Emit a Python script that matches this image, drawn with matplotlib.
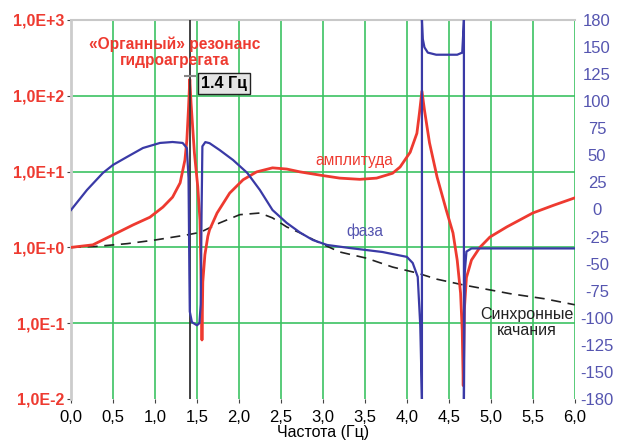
import matplotlib
matplotlib.use("Agg")
import matplotlib.pyplot as plt

plt.rcParams["font.family"] = ["Liberation Sans", "DejaVu Sans"]

# amplitude response (left, log scale)
amp_f = [0.0, 0.26, 0.5, 0.74, 0.94, 1.095, 1.21, 1.30, 1.357, 1.38, 1.40,
         1.415, 1.43, 1.47, 1.51, 1.536, 1.552, 1.56, 1.57, 1.595, 1.63, 1.65,
         1.74, 1.89, 2.05, 2.21, 2.40, 2.57, 2.73, 2.96, 3.20, 3.44, 3.64,
         3.83, 3.92, 4.04, 4.12, 4.15, 4.18, 4.21, 4.27, 4.36, 4.47, 4.55,
         4.60, 4.64, 4.66, 4.672, 4.685, 4.71, 4.77, 4.87, 4.99, 5.19, 5.50,
         5.75, 6.00]
amp_v = [1.0, 1.08, 1.46, 1.98, 2.5, 3.4, 4.6, 7.1, 14.2, 26, 70,
         165, 80, 17.6, 6.3, 2.3, 0.3, 0.06, 0.35, 0.8, 1.4, 1.7,
         2.84, 5.2, 7.8, 9.9, 11.2, 10.8, 9.9, 9.0, 8.2, 7.9, 8.2,
         9.5, 11.5, 18, 32, 59, 115, 65, 24, 8.5, 3.1, 1.55,
         0.68, 0.25, 0.08, 0.015, 0.15, 0.4, 0.68, 1.0, 1.37, 1.86, 2.84,
         3.6, 4.5]

# phase response (right axis, degrees; vertical jumps are the +-180 wraps)
ph_f = [0.0, 0.19, 0.38, 0.5, 0.667, 0.857, 1.06, 1.21, 1.33, 1.38, 1.40,
        1.41, 1.415, 1.44, 1.50, 1.53, 1.545, 1.555, 1.565, 1.60, 1.65, 1.77,
        1.93, 2.10, 2.25, 2.40, 2.57, 2.73, 2.88, 3.05, 3.32, 3.71, 4.00,
        4.07, 4.13, 4.16, 4.18, 4.18, 4.19, 4.21, 4.25, 4.35, 4.60, 4.66,
        4.68, 4.68, 4.69, 4.71, 4.77, 6.00]
ph_v = [-0.5, 18.5, 34.7, 42.3, 49.9, 58.4, 63.2, 64.1, 63.2, 58.4, 30,
        -60, -97, -107, -110, -108, -90, -5, 60, 64, 63, 56.5,
        47, 34.7, 18.5, -0.5, -12.8, -22, -29, -33.7, -36.6, -40.4, -45,
        -50.8, -64, -110, -180, 180, 162, 154, 149, 147, 147, 149,
        180, -180, -60, -40, -37, -37]

# synchronous swings (dashed, left axis)
sync_f = [0.0, 0.3, 0.67, 1.0, 1.38, 1.54, 1.77, 2.01, 2.25, 2.40, 2.57,
          2.73, 2.96, 3.20, 3.52, 3.83, 4.12, 4.36, 4.67, 5.23, 5.64, 6.0]
sync_v = [1.0, 1.03, 1.12, 1.25, 1.46, 1.58, 2.1, 2.7, 2.84, 2.45, 1.86,
          1.55, 1.15, 0.87, 0.72, 0.55, 0.46, 0.38, 0.32, 0.245, 0.21, 0.175]

marker_f = 1.415

x_ticks = [0.0, 0.5, 1.0, 1.5, 2.0, 2.5, 3.0, 3.5, 4.0, 4.5, 5.0, 5.5, 6.0]
x_labels = ["0,0", "0,5", "1,0", "1,5", "2,0", "2,5", "3,0", "3,5", "4,0",
            "4,5", "5,0", "5,5", "6,0"]
y_ticks = [1e-2, 1e-1, 1e0, 1e1, 1e2, 1e3]
y_labels = ["1,0E-2", "1,0E-1", "1,0E+0", "1,0E+1", "1,0E+2", "1,0E+3"]
ph_labels = ["180", "150", "125", "100", "75", "50", "25", "0", "-25", "-50",
             "-75", "-100", "-125", "-150", "-180"]

RED = "#ee3a30"
BLUE = "#3a3aa6"
BLUE_TXT = "#5555b0"
GREEN = "#3cc262"

fig = plt.figure(figsize=(6.2, 4.44), dpi=100)
ax = fig.add_axes([0.1145, 0.1014, 0.8125, 0.8536])

for xv in x_ticks:
    ax.axvline(xv, color=GREEN, lw=1.2, zorder=1)
for yv in y_ticks[1:-1]:
    ax.axhline(yv, color=GREEN, lw=1.2, zorder=1)

ax.plot(sync_f, sync_v, color="#222222", lw=1.2, ls=(0, (6, 4)), zorder=3)
ax.plot(amp_f, amp_v, color=RED, lw=2.0, zorder=4)
ax.axvline(marker_f, color="#333333", lw=1.3, zorder=6)
ax.plot([marker_f], [185], marker="_", ms=8, mew=1.5, color="#888888", zorder=7)

ax.set_yscale("log")
ax.set_ylim(1e-2, 1e3)
ax.set_xlim(0, 6)
ax.set_xticks(x_ticks)
ax.set_xticklabels(x_labels, fontsize=12)
ax.set_yticks(y_ticks)
ax.set_yticklabels(y_labels, fontsize=11.5, color=RED, fontweight="bold")
ax.minorticks_off()
ax.tick_params(axis="y", length=3, color="#444444", pad=2)
ax.tick_params(axis="x", length=3, color="#444444", pad=5)
ax.set_xlabel("Частота (Гц)", fontsize=11.5, labelpad=0)

for s in ["right", "bottom"]:
    ax.spines[s].set_visible(False)
ax.spines["left"].set_color("#cccccc")
ax.spines["left"].set_linewidth(2)
ax.spines["top"].set_color("#c8c8c8")
ax.spines["top"].set_linewidth(1.5)

ax2 = ax.twinx()
ax2.plot(ph_f, ph_v, color=BLUE, lw=1.6, zorder=5)
ax2.set_ylim(-180, 180)
ax2.set_yticks([180 - 360 * k / 14 for k in range(15)])
ax2.set_yticklabels(ph_labels, fontsize=12, color=BLUE_TXT)
ax2.tick_params(axis="y", length=0, pad=16)
for lab in ax2.get_yticklabels():
    lab.set_horizontalalignment("center")
for s in ax2.spines.values():
    s.set_visible(False)

ax.text(1.24, 375, "«Органный» резонанс\nгидроагрегата", color=RED,
        fontsize=11.2, fontweight="bold", ha="center", va="center",
        linespacing=1.15, zorder=8)
ax.text(1.545, 145, "1.4 Гц", fontsize=11.5, fontweight="bold", ha="left",
        va="center", zorder=8,
        bbox=dict(boxstyle="square,pad=0.2", fc="#e4e4e4", ec="#222222", lw=1))
ax.text(3.37, 13.8, "амплитуда", color=RED, fontsize=11.2, ha="center",
        va="center", zorder=8)
ax.text(3.5, 1.64, "фаза", color=BLUE_TXT, fontsize=11.2, ha="center",
        va="center", zorder=8)
ax.text(5.43, 0.102, "Синхронные\nкачания", color="#222222", fontsize=11.5,
        ha="center", va="center", linespacing=1.15, zorder=8)

fig.savefig("out.png", dpi=100)
